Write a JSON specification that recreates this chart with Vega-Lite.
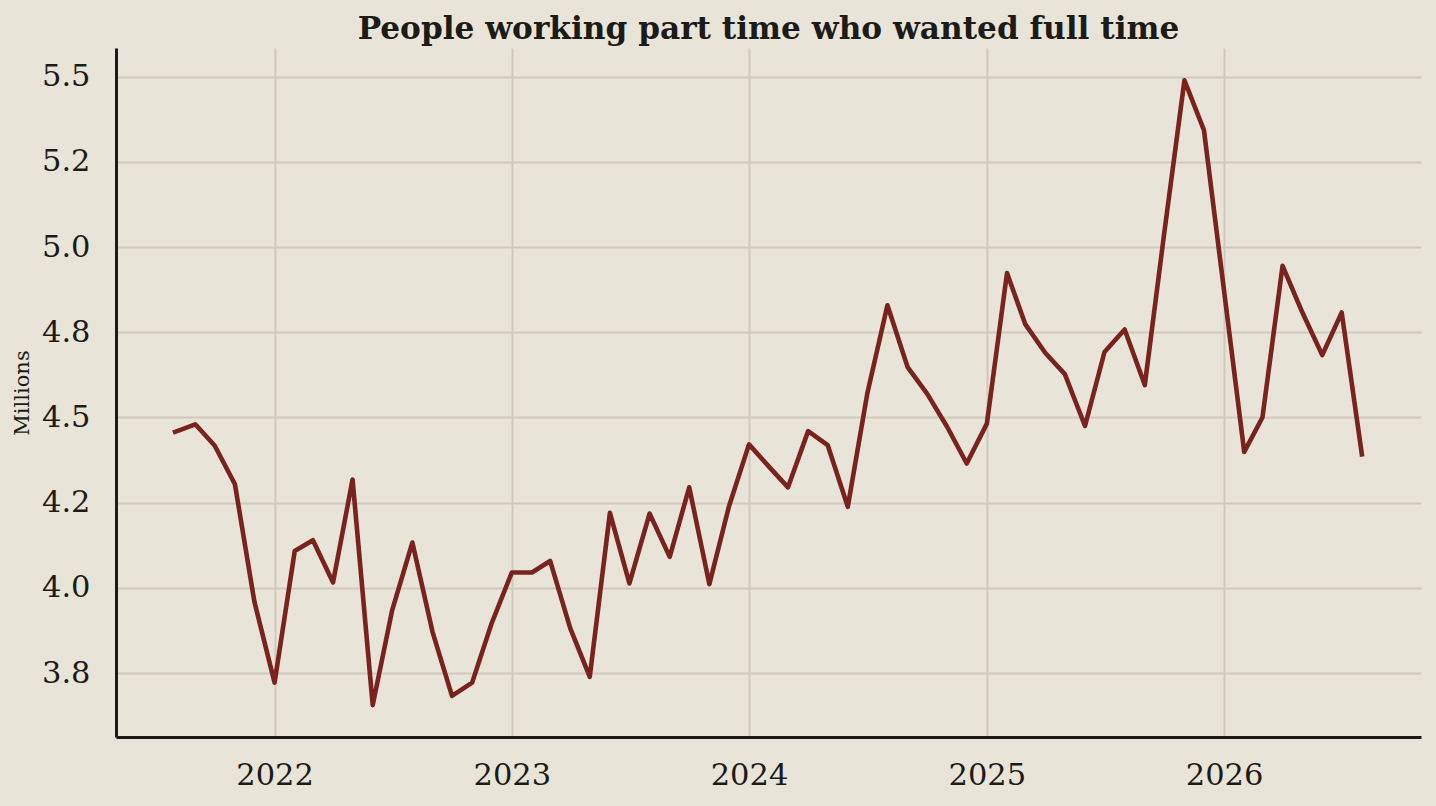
{
  "$schema": "https://vega.github.io/schema/vega-lite/v6.json",
  "width": 1305,
  "height": 689,
  "autosize": {"type": "none"},
  "padding": {"left": 116, "top": 48, "right": 15, "bottom": 69},
  "background": "#e8e4d7",
  "title": {
    "text": "People working part time who wanted full time",
    "font": "DejaVu Serif",
    "fontSize": 31.2,
    "fontWeight": "bold",
    "color": "#1c1b18",
    "anchor": "middle",
    "frame": "group",
    "baseline": "alphabetic",
    "offset": -22
  },
  "config": {
    "view": {"stroke": null},
    "axis": {
      "labelFont": "DejaVu Serif",
      "labelFontSize": 30.5,
      "labelColor": "#1c1b18",
      "titleFont": "DejaVu Serif",
      "titleColor": "#1c1b18",
      "domainColor": "#1c1b18",
      "domainWidth": 3,
      "gridColor": "#cfcabc",
      "gridWidth": 2,
      "ticks": false,
      "tickSize": 0
    }
  },
  "data": {
    "values": [
      {"date": "2021-08-01", "value": 4.458},
      {"date": "2021-09-01", "value": 4.480},
      {"date": "2021-10-01", "value": 4.417},
      {"date": "2021-11-01", "value": 4.304},
      {"date": "2021-12-01", "value": 3.959},
      {"date": "2022-01-01", "value": 3.722},
      {"date": "2022-02-01", "value": 4.108},
      {"date": "2022-03-01", "value": 4.140},
      {"date": "2022-04-01", "value": 4.016},
      {"date": "2022-05-01", "value": 4.318},
      {"date": "2022-06-01", "value": 3.656},
      {"date": "2022-07-01", "value": 3.935},
      {"date": "2022-08-01", "value": 4.133},
      {"date": "2022-09-01", "value": 3.871},
      {"date": "2022-10-01", "value": 3.683},
      {"date": "2022-11-01", "value": 3.722},
      {"date": "2022-12-01", "value": 3.896},
      {"date": "2023-01-01", "value": 4.045},
      {"date": "2023-02-01", "value": 4.045},
      {"date": "2023-03-01", "value": 4.079},
      {"date": "2023-04-01", "value": 3.881},
      {"date": "2023-05-01", "value": 3.739},
      {"date": "2023-06-01", "value": 4.220},
      {"date": "2023-07-01", "value": 4.013},
      {"date": "2023-08-01", "value": 4.218},
      {"date": "2023-09-01", "value": 4.091},
      {"date": "2023-10-01", "value": 4.295},
      {"date": "2023-11-01", "value": 4.011},
      {"date": "2023-12-01", "value": 4.238},
      {"date": "2024-01-01", "value": 4.421},
      {"date": "2024-02-01", "value": 4.355},
      {"date": "2024-03-01", "value": 4.295},
      {"date": "2024-04-01", "value": 4.460},
      {"date": "2024-05-01", "value": 4.419},
      {"date": "2024-06-01", "value": 4.238},
      {"date": "2024-07-01", "value": 4.570},
      {"date": "2024-08-01", "value": 4.829},
      {"date": "2024-09-01", "value": 4.648},
      {"date": "2024-10-01", "value": 4.570},
      {"date": "2024-11-01", "value": 4.472},
      {"date": "2024-12-01", "value": 4.365},
      {"date": "2025-01-01", "value": 4.482},
      {"date": "2025-02-01", "value": 4.924},
      {"date": "2025-03-01", "value": 4.774},
      {"date": "2025-04-01", "value": 4.689},
      {"date": "2025-05-01", "value": 4.627},
      {"date": "2025-06-01", "value": 4.475},
      {"date": "2025-07-01", "value": 4.692},
      {"date": "2025-08-01", "value": 4.758},
      {"date": "2025-09-01", "value": 4.595},
      {"date": "2025-10-01", "value": 5.042},
      {"date": "2025-11-01", "value": 5.489},
      {"date": "2025-12-01", "value": 5.343},
      {"date": "2026-01-01", "value": 4.871},
      {"date": "2026-02-01", "value": 4.399},
      {"date": "2026-03-01", "value": 4.500},
      {"date": "2026-04-01", "value": 4.945},
      {"date": "2026-05-01", "value": 4.810},
      {"date": "2026-06-01", "value": 4.683},
      {"date": "2026-07-01", "value": 4.808},
      {"date": "2026-08-01", "value": 4.392}
    ]
  },
  "mark": {
    "type": "line",
    "color": "#7a221e",
    "strokeWidth": 4.6,
    "strokeCap": "square",
    "strokeJoin": "round",
    "clip": true
  },
  "encoding": {
    "x": {
      "field": "date",
      "type": "temporal",
      "scale": {
        "type": "utc",
        "domain": [
          {"year": 2021, "month": 5, "date": 2, "utc": true},
          {"year": 2026, "month": 10, "date": 31, "utc": true}
        ],
        "nice": false
      },
      "axis": {
        "title": null,
        "values": [
          {"year": 2022, "utc": true},
          {"year": 2023, "utc": true},
          {"year": 2024, "utc": true},
          {"year": 2025, "utc": true},
          {"year": 2026, "utc": true}
        ],
        "format": "%Y",
        "labelPadding": 23,
        "labelFlush": false,
        "labelOverlap": false
      }
    },
    "y": {
      "field": "value",
      "type": "quantitative",
      "scale": {"domain": [3.5625, 5.584], "nice": false, "zero": false},
      "axis": {
        "title": "Millions",
        "titleFontSize": 21,
        "titleFontWeight": "normal",
        "titlePadding": 9,
        "values": [3.75, 4.0, 4.25, 4.5, 4.75, 5.0, 5.25, 5.5],
        "labelExpr": "datum.value == 5.25 ? '5.2' : datum.value == 4.25 ? '4.2' : format(datum.value, '.1f')",
        "labelPadding": 26,
        "labelOverlap": false,
        "labelFlush": false
      }
    }
  }
}
